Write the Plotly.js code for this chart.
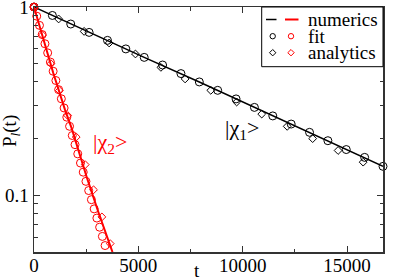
<!DOCTYPE html>
<html><head><meta charset="utf-8">
<script src="https://cdn.plot.ly/plotly-3.0.1.min.js"></script>
<style>html,body{margin:0;padding:0;background:#fff}#chart{width:407px;height:278px}</style>
</head><body><div id="chart"></div>
<script>
// |chi_1> (black)
const chi1NumT = [0, 2640, 5280, 7920, 10560, 13200, 16720];
const chi1NumP = [1, 0.733, 0.540, 0.400, 0.293, 0.216, 0.1425];
const chi1FitT = [0, 880, 1760, 2640, 3520, 4400, 5280, 6160, 7040, 7920, 8800, 9680, 10560, 11440, 12320, 13200, 14080, 14960, 15840, 16720];
const chi1FitP = [1, 0.902, 0.812, 0.733, 0.665, 0.599, 0.540, 0.492, 0.443, 0.400, 0.361, 0.325, 0.293, 0.264, 0.239, 0.216, 0.195, 0.175, 0.159, 0.1425];
const chi1AnaT = [0, 1180, 2400, 3600, 4860, 6080, 7240, 8470, 9710, 10910, 12130, 13350, 14570, 15770];
const chi1AnaP = [1, 0.864, 0.742, 0.644, 0.563, 0.478, 0.415, 0.361, 0.313, 0.270, 0.2324, 0.200, 0.173, 0.150];
// |chi_2> (red)
const chi2NumT = [0, 364, 923, 1483, 1798, 2535, 3090, 3760];
const chi2NumP = [1, 0.728, 0.446, 0.285, 0.228, 0.124, 0.081, 0.05];
const chi2FitT = [0, 131, 262, 393, 524, 655, 786, 917, 1048, 1179, 1310, 1441, 1572, 1703, 1834, 1965, 2096, 2227, 2358, 2489, 2620, 2751, 2882, 3013, 3144, 3275, 3406];
const chi2FitP = [1, 0.894, 0.799, 0.714, 0.638, 0.571, 0.510, 0.456, 0.407, 0.364, 0.3256, 0.291, 0.260, 0.2325, 0.2078, 0.1858, 0.166, 0.1484, 0.1327, 0.1186, 0.106, 0.0948, 0.0847, 0.0757, 0.0677, 0.0605, 0.0541];
const chi2AnaT = [0, 405, 810, 1215, 1620, 2023, 2454, 2852, 3253, 3650];
const chi2AnaP = [1, 0.71, 0.50, 0.36, 0.265, 0.204, 0.1455, 0.107, 0.0768, 0.0554];
// axes
const xTicks = [0, 5000, 10000, 15000];
const xMinor = [2500, 7500, 12500];
const yTicks = [0.1, 1];
const yTickText = ['0.1', '1'];
const yMinor = [0.06, 0.07, 0.08, 0.09, 0.2, 0.3, 0.4, 0.5, 0.6, 0.7, 0.8, 0.9];
const legendLabels = ['numerics', 'fit', 'analytics'];

const FONT = 'Liberation Serif, Times New Roman, DejaVu Serif, serif';
const BLACK = '#000000', RED = '#ff0000';

function lineTrace(x, y, c, w) {
  return {x, y, mode: 'lines', type: 'scatter', line: {color: c, width: w}, hoverinfo: 'skip', showlegend: false};
}
function markTrace(x, y, c, sym, size) {
  return {x, y, mode: 'markers', type: 'scatter', cliponaxis: false,
    marker: {symbol: sym, size: size, color: c, line: {color: c, width: 1}}, hoverinfo: 'skip', showlegend: false};
}
const data = [
  lineTrace(chi1NumT, chi1NumP, BLACK, 1.5),
  markTrace(chi1FitT, chi1FitP, BLACK, 'circle-open', 8),
  markTrace(chi1AnaT, chi1AnaP, BLACK, 'diamond-open', 6),
  lineTrace(chi2NumT, chi2NumP, RED, 2),
  markTrace(chi2FitT, chi2FitP, RED, 'circle-open', 8),
  markTrace(chi2AnaT, chi2AnaP, RED, 'diamond-open', 6)
];

const W = 407, H = 278, L = 34, R = 24, T = 7, B = 26;
const pw = W - L - R, ph = H - T - B;
const px = v => (v - L) / pw;
const py = v => (H - B - v) / ph;

const shapes = [
  {type: 'rect', xref: 'paper', yref: 'paper', x0: px(261.7), x1: 1, y0: py(66.7), y1: 1, line: {color: '#000', width: 1}, fillcolor: '#fff', layer: 'above'},
  {type: 'line', xref: 'paper', yref: 'paper', x0: px(266), x1: px(276.5), y0: py(19.5), y1: py(19.5), line: {color: BLACK, width: 1.5}, layer: 'above'},
  {type: 'line', xref: 'paper', yref: 'paper', x0: px(285), x1: px(298.5), y0: py(19.5), y1: py(19.5), line: {color: RED, width: 2}, layer: 'above'}
];
function legCircle(cx, cy, c) {
  return {type: 'circle', xref: 'paper', yref: 'paper', xsizemode: 'pixel', ysizemode: 'pixel', xanchor: px(cx), yanchor: py(cy), x0: -2.7, x1: 2.7, y0: -2.7, y1: 2.7, line: {color: c, width: 1}, layer: 'above'};
}
function legDiamond(cx, cy, c) {
  const r = 3.2;
  return {type: 'path', xref: 'paper', yref: 'paper', xsizemode: 'pixel', ysizemode: 'pixel', xanchor: px(cx), yanchor: py(cy),
    path: `M0,${r} L${r},0 L0,${-r} L${-r},0 Z`, line: {color: c, width: 1}, layer: 'above'};
}
shapes.push(legCircle(272.7, 36.2, BLACK), legCircle(291, 36.2, RED), legDiamond(272.7, 52.7, BLACK), legDiamond(291, 52.7, RED));

const legY = [19.5, 36.2, 52.7];
const annotations = legendLabels.map((t, i) => ({
  text: t, xref: 'paper', yref: 'paper', x: px(305.5), y: py(legY[i]), xanchor: 'left', yanchor: 'middle', showarrow: false,
  font: {family: FONT, size: 19, color: '#000'}
}));
annotations.push(
  {text: '|χ<sub>1</sub>&gt;', xref: 'paper', yref: 'paper', x: px(223), y: py(129), xanchor: 'left', yanchor: 'middle', showarrow: false, font: {family: FONT, size: 22, color: BLACK}},
  {text: '|χ<sub>2</sub>&gt;', xref: 'paper', yref: 'paper', x: px(91), y: py(143), xanchor: 'left', yanchor: 'middle', showarrow: false, font: {family: FONT, size: 22, color: RED}},
  {text: 't', xref: 'paper', yref: 'paper', x: px(197), y: py(270), xanchor: 'center', yanchor: 'middle', showarrow: false, font: {family: FONT, size: 19, color: '#000'}},
  {text: 'P<sub><i>l</i></sub>(t)', xref: 'paper', yref: 'paper', x: px(11), y: py(131), xanchor: 'center', yanchor: 'middle', textangle: -90, showarrow: false, font: {family: FONT, size: 19, color: '#000'}}
);

const axisCommon = {
  showgrid: false, zeroline: false, showline: true, linecolor: '#333', linewidth: 1.5, mirror: 'ticks',
  ticks: 'inside', ticklen: 6, tickwidth: 1, tickcolor: '#333', ticklabeloverflow: 'allow',
  tickfont: {family: FONT, size: 19, color: '#000'}
};
const layout = {
  width: W, height: H, margin: {l: L, r: R, t: T, b: B, pad: 0},
  paper_bgcolor: '#fff', plot_bgcolor: '#fff', showlegend: false,
  xaxis: Object.assign({}, axisCommon, {range: [0, 16720], tickmode: 'array', tickvals: xTicks, ticktext: xTicks.map(String), ticklabelstandoff: -4,
    minor: {tickmode: 'array', tickvals: xMinor, ticks: 'inside', ticklen: 3.5, tickwidth: 1, tickcolor: '#333'}}),
  yaxis: Object.assign({}, axisCommon, {type: 'log', range: [Math.log10(0.05), 0], tickmode: 'array', tickvals: yTicks, ticktext: yTickText,
    minor: {tickmode: 'array', tickvals: yMinor, ticks: 'inside', ticklen: 3.5, tickwidth: 1, tickcolor: '#333'}}),
  shapes, annotations
};
Plotly.newPlot('chart', data, layout, {displayModeBar: false, staticPlot: true});
</script>
</body></html>
